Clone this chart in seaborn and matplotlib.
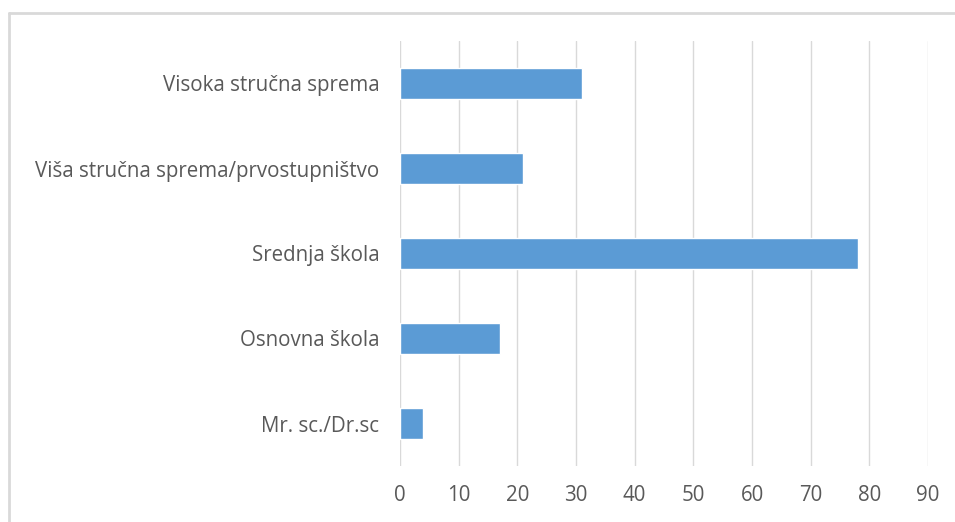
import matplotlib
matplotlib.use("Agg")
import matplotlib.pyplot as plt
import seaborn as sns
import pandas as pd
from matplotlib.lines import Line2D

# Data
categories = [
    "Visoka stručna sprema",
    "Viša stručna sprema/prvostupništvo",
    "Srednja škola",
    "Osnovna škola",
    "Mr. sc./Dr.sc",
]
counts = [31, 21, 78, 17, 4]
x_ticks = [0, 10, 20, 30, 40, 50, 60, 70, 80, 90]

sns.set_theme(style="white")
plt.rcParams["font.family"] = ["Open Sans", "DejaVu Sans"]

df = pd.DataFrame({"category": categories, "count": counts})

fig = plt.figure(figsize=(9.55, 5.22), dpi=100)
ax = fig.add_axes([400 / 955, 1 - 466 / 522, 528 / 955, 425 / 522])

sns.barplot(data=df, x="count", y="category", order=categories,
            color="#5b9bd5", saturation=1, width=0.36, ax=ax)

ax.set_xlim(0, 90)
ax.set_xticks(x_ticks)
ax.set_xlabel("")
ax.set_ylabel("")
ax.xaxis.grid(True, color="#d9d9d9", linewidth=1)
ax.set_axisbelow(True)
for s in ax.spines.values():
    s.set_visible(False)
ax.tick_params(axis="both", length=0, colors="#595959", labelsize=14.8)
ax.tick_params(axis="x", pad=14)
ax.tick_params(axis="y", pad=15)

# chart frame (only top and left edges fall inside the image)
fig.add_artist(Line2D([9 / 955, 1.0], [1 - 13 / 522, 1 - 13 / 522],
                      transform=fig.transFigure, color="#d9d9d9", linewidth=2))
fig.add_artist(Line2D([9 / 955, 9 / 955], [0, 1 - 13 / 522],
                      transform=fig.transFigure, color="#d9d9d9", linewidth=2))

fig.savefig("out.png", dpi=100, facecolor="white")
